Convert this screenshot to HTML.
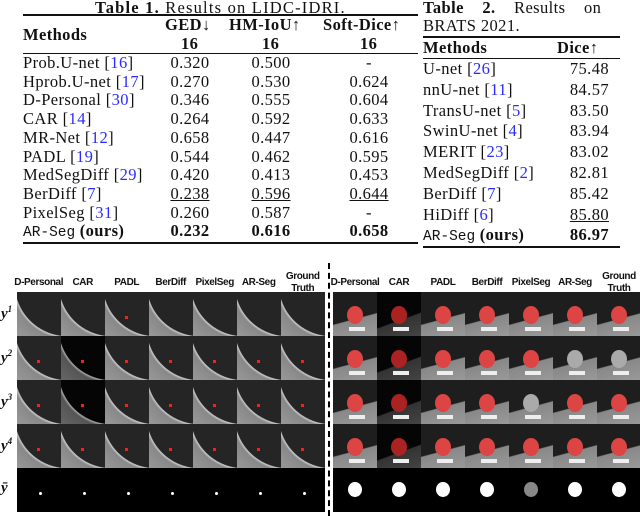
<!DOCTYPE html>
<html><head><meta charset="utf-8"><style>
body{margin:0;width:640px;height:516px;background:#fff;position:relative;overflow:hidden;font-family:"Liberation Serif",serif;color:#111}
.a{position:absolute;white-space:nowrap}
.t{font-size:16.5px;line-height:18px;letter-spacing:0.4px}
.r{position:absolute;background:#111}
.c{color:#2b2bff}
.b{font-weight:bold}
.m{font-family:"Liberation Mono",monospace;font-size:14.5px;letter-spacing:0}
.cell{position:absolute;width:44px;height:44px;overflow:hidden}
.h{position:absolute;font-family:"Liberation Sans",sans-serif;font-weight:bold;font-size:10px;text-align:center;width:56px;line-height:12px;white-space:nowrap;letter-spacing:-0.4px}
.yl{position:absolute;left:1px;font-style:italic;font-weight:bold;font-size:15px}
.yl sup{font-size:9px}
</style></head><body>
<div>
<div class="a t" style="left:95px;top:-1px;letter-spacing:1.2px"><b>Table 1.</b> Results on LIDC-IDRI.</div>
<div class="r" style="left:23px;top:14px;width:395px;height:2px"></div>
<div class="a t b" style="left:23px;top:26px">Methods</div>
<div class="a t b" style="left:165px;top:16px">GED↓</div>
<div class="a t b" style="left:229px;top:16px">HM-IoU↑</div>
<div class="a t b" style="left:323px;top:16px">Soft-Dice↑</div>
<div class="a t b" style="left:181px;top:35px">16</div>
<div class="a t b" style="left:262px;top:35px">16</div>
<div class="a t b" style="left:360px;top:35px">16</div>
<div class="r" style="left:23px;top:53px;width:395px;height:1px"></div>
<div class="r" style="left:23px;top:242px;width:395px;height:2px"></div>
<div id="t1"></div>
</div>
<div>
<div class="a t" style="left:423px;top:-1px;word-spacing:14px"><b>Table 2.</b> Results on</div>
<div class="a t" style="left:423px;top:17px">BRATS 2021.</div>
<div class="r" style="left:423px;top:36px;width:197px;height:2px"></div>
<div class="a t b" style="left:423px;top:39px">Methods</div>
<div class="a t b" style="left:557px;top:39px">Dice↑</div>
<div class="r" style="left:423px;top:58px;width:197px;height:1px"></div>
<div class="r" style="left:423px;top:246px;width:197px;height:2px"></div>
<div id="t2"></div>
</div>
<div id="grid"></div>
<div style="position:absolute;left:328px;top:263px;height:253px;border-left:2.5px dashed #000"></div>
<script>
const t1Methods=["Prob.U-net","Hprob.U-net","D-Personal","CAR","MR-Net","PADL","MedSegDiff","BerDiff","PixelSeg"];
const t1Refs=["16","17","30","14","12","19","29","7","31"];
const t1GED=["0.320","0.270","0.346","0.264","0.658","0.544","0.420","0.238","0.260"];
const t1HM=["0.500","0.530","0.555","0.592","0.447","0.462","0.413","0.596","0.587"];
const t1SD=["-","0.624","0.604","0.633","0.616","0.595","0.453","0.644","-"];
const t2Methods=["U-net","nnU-net","TransU-net","SwinU-net","MERIT","MedSegDiff","BerDiff","HiDiff"];
const t2Refs=["26","11","5","4","23","2","7","6"];
const t2Dice=["75.48","84.57","83.50","83.94","83.02","82.81","85.42","85.80"];
function add(parent,html,l,t,w,align,name){const d=document.createElement('div');d.className='a t';d.style.left=l+'px';d.style.top=t+'px';if(w){d.style.width=w+'px';d.style.textAlign=align;}d.innerHTML=html;


parent.appendChild(d);return d;}
const T1=document.getElementById('t1');
t1Methods.forEach((m,i)=>{const y=54+i*18.7;const u=i===7?'text-decoration:underline':'';
add(T1,m+' [<span class="c">'+t1Refs[i]+'</span>]',23,y,0,'','t1-method');
add(T1,'<span style="'+u+'">'+t1GED[i]+'</span>',160,y,60,'center','t1-ged');
add(T1,'<span style="'+u+'">'+t1HM[i]+'</span>',241,y,60,'center','t1-hmiou');
add(T1,'<span style="'+u+'">'+t1SD[i]+'</span>',339,y,60,'center','t1-softdice');});
{const y=54+9*18.7;add(T1,'<span class="m">AR-Seg</span> <b>(ours)</b>',23,y,0,'','t1-method');
add(T1,'<b>0.232</b>',160,y,60,'center','t1-ged');add(T1,'<b>0.616</b>',241,y,60,'center','t1-hmiou');add(T1,'<b>0.658</b>',339,y,60,'center','t1-softdice');}
const T2=document.getElementById('t2');
t2Methods.forEach((m,i)=>{const y=60+i*20.8;const u=i===7?'text-decoration:underline':'';
add(T2,m+' [<span class="c">'+t2Refs[i]+'</span>]',423,y,0,'','t2-method');
add(T2,'<span style="'+u+'">'+t2Dice[i]+'</span>',540,y,69,'right','t2-dice');});
{const y=60+8*20.8;add(T2,'<span class="m">AR-Seg</span> <b>(ours)</b>',423,y,0,'','t2-method');add(T2,'<b>86.97</b>',540,y,69,'right','t2-dice');}

const cols=["D-Personal","CAR","PADL","BerDiff","PixelSeg","AR-Seg","Ground<br>Truth"];
const rowLabels=["y<sup>1</sup>","y<sup>2</sup>","y<sup>3</sup>","y<sup>4</sup>","ȳ"];
const G=document.getElementById('grid');
const lx=16.7,rx=333,top0=292,cw=44;
[lx,rx].forEach((x0,side)=>{cols.forEach((c,j)=>{const h=document.createElement('div');h.className='h';h.style.left=(x0+j*cw-6)+'px';h.style.top=(j===6?271:277)+'px';h.innerHTML=c;


G.appendChild(h);
for(let r=0;r<5;r++){const d=document.createElement('div');d.className='cell';d.style.left=(x0+j*cw)+'px';d.style.top=(top0+r*44)+'px';


const dark=(j===1&&(side===1||r===1||r===2));
if(r===4){d.style.background='#000';const s=document.createElement('div');const sz=side?14:3;s.style.cssText='position:absolute;border-radius:50%;background:'+(side&&j===4?'#888':'#fff')+';width:'+sz+'px;height:'+(sz*1.1)+'px;left:'+(side?15:22)+'px;top:'+(side?14:24)+'px';d.appendChild(s);}
else if(side===0){d.style.background=dark?'radial-gradient(circle at 115% -20%,#050505 0 72%,#aaa 73%,#555 76%,#666 100%)':'radial-gradient(circle at 115% -20%,#252525 0 72%,#ccc 73%,#888 76%,#999 100%)';
if(r>0||j===2){const s=document.createElement('div');s.style.cssText='position:absolute;width:3px;height:3px;background:#e22;left:20px;top:24px';d.appendChild(s);}}
else{d.style.background=dark?'linear-gradient(160deg,#050505 0 60%,#333 62%,#444 100%)':'linear-gradient(165deg,#1e1e1e 0 58%,#888 60%,#999 100%)';
const w=document.createElement('div');w.style.cssText='position:absolute;width:16px;height:4px;background:#eee;left:16px;top:35px';d.appendChild(w);
const s=document.createElement('div');const gray=(r===1&&(j===5||j===6))||(r===2&&j===4);
s.style.cssText='position:absolute;border-radius:50%;width:16px;height:18px;left:14px;top:14px;background:'+(gray?'#aaa':(dark?'#a22':'#d44'));d.appendChild(s);}
G.appendChild(d);}});});
rowLabels.forEach((l,r)=>{const d=document.createElement('div');d.className='yl';d.style.top=(top0+r*44+12)+'px';d.innerHTML=l;


G.appendChild(d);});
</script>
</body></html>
